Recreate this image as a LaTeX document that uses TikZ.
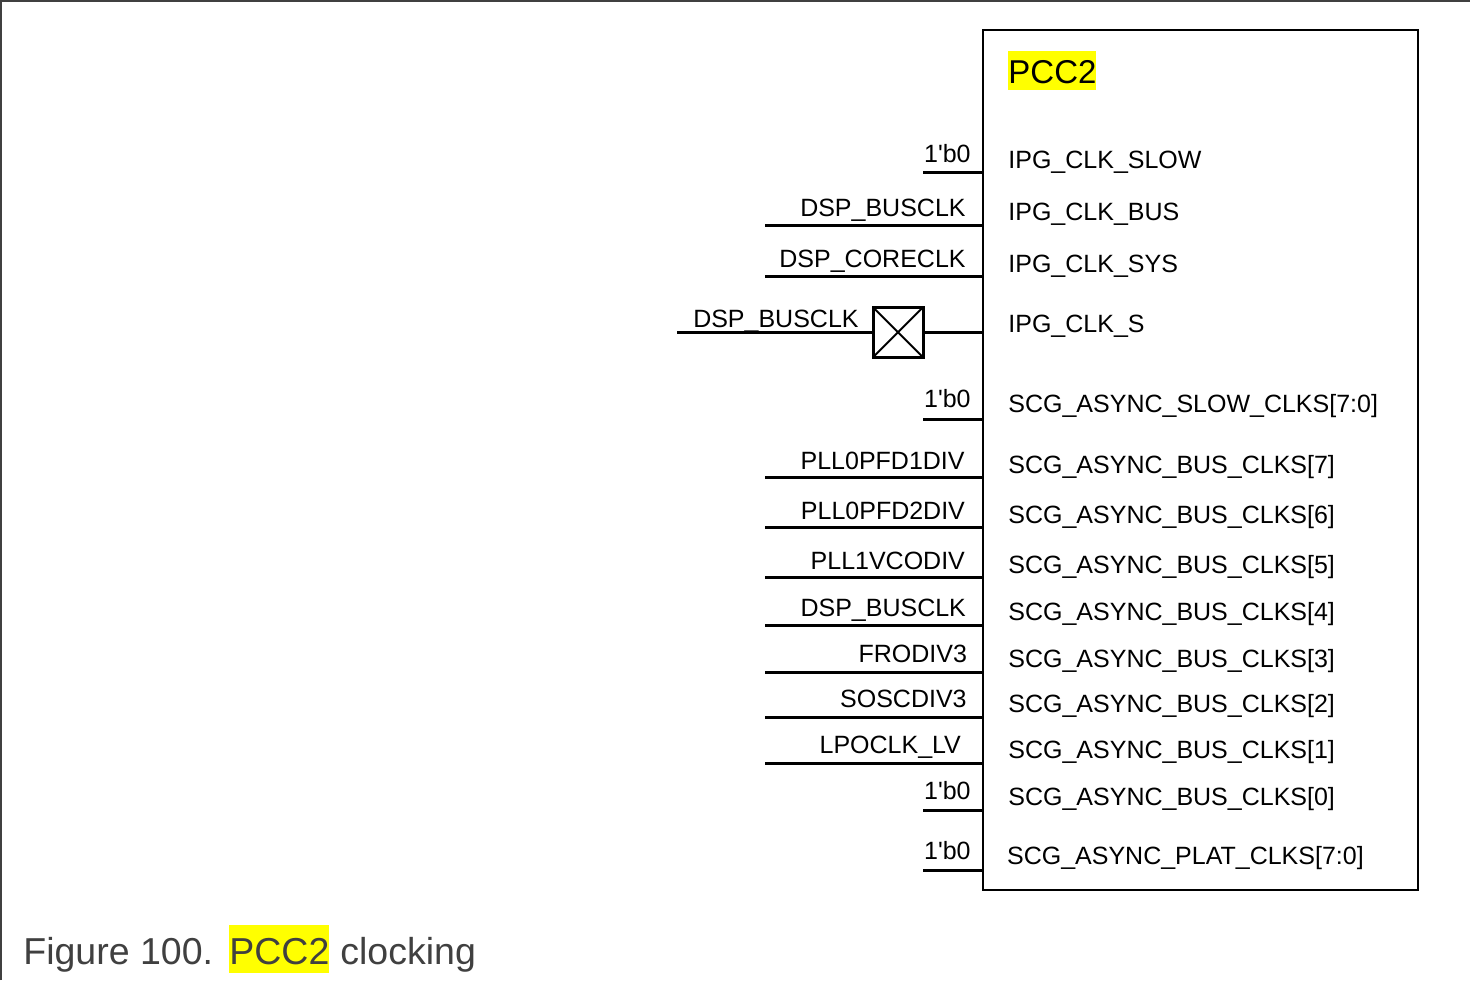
\documentclass[tikz,border=0pt]{standalone}
\usepackage{fontspec}
\setmainfont{Liberation Sans}
\definecolor{capgray}{HTML}{404040}
\definecolor{hiyellow}{HTML}{FFFF00}
\begin{document}
\begin{tikzpicture}[x=0.5pt,y=-0.5pt,
  wire/.style={line width=1.5pt},
  sig/.style={font=\fontsize{12.5}{15}\selectfont, inner sep=0pt, anchor=base east},
  port/.style={font=\fontsize{12.5}{15}\selectfont, inner sep=0pt, anchor=base west},
  gatebox/.style={draw, line width=1.5pt, minimum size=25pt, inner sep=0pt, outer sep=0pt,
    path picture={\draw[line width=1pt] (path picture bounding box.north west) -- (path picture bounding box.south east)
      (path picture bounding box.south west) -- (path picture bounding box.north east);}},
  blockbox/.style={draw, line width=1.25pt, minimum width=217.5pt, minimum height=430pt, inner sep=0pt, outer sep=0pt},
  captext/.style={font=\fontsize{18.75}{22}\selectfont, text=capgray, inner sep=0pt, anchor=base west},
]
\useasboundingbox (0,0) rectangle (1470,980);
\fill[white] (0,0) rectangle (1470,980);
\draw[line width=1pt, color=capgray] (1,980) -- (1,1) -- (1470,1);

% block
\node[blockbox, anchor=north west] (pcc) at (983,30) {};
\node[port, font=\fontsize{16.5}{19}\selectfont, fill=hiyellow, text height=16.35pt, text depth=3.4pt] (title) at (1008,83.5) {PCC2};

% regular rows
\foreach \n/\wy/\wx/\rx/\ly/\txt/\py/\px/\ptxt in {
  1/172.5/923/971/162/1\textquotesingle b0/168/1008/IPG\_CLK\_SLOW,
  2/225.5/765/966/216.7/DSP\_BUSCLK/220.3/1008/IPG\_CLK\_BUS,
  3/276.5/765/966/267/DSP\_CORECLK/272/1008/IPG\_CLK\_SYS,
  5/419/923/971/407/1\textquotesingle b0/412.3/1008/SCG\_ASYNC\_SLOW\_CLKS[7:0],
  6/477.3/765/965/469.7/PLL0PFD1DIV/473.7/1008/SCG\_ASYNC\_BUS\_CLKS[7],
  7/527.7/765/965.3/519.3/PLL0PFD2DIV/523.7/1008/SCG\_ASYNC\_BUS\_CLKS[6],
  8/577.3/765/965.3/569.7/PLL1VCODIV/573.7/1008/SCG\_ASYNC\_BUS\_CLKS[5],
  9/625.7/765/966.3/616/DSP\_BUSCLK/620.3/1008/SCG\_ASYNC\_BUS\_CLKS[4],
  10/672.7/765/967.3/662.7/FRODIV3/667/1008/SCG\_ASYNC\_BUS\_CLKS[3],
  11/717.3/765/967/707/SOSCDIV3/712.2/1008/SCG\_ASYNC\_BUS\_CLKS[2],
  12/763.3/765/961.3/753.7/LPOCLK\_LV/758.3/1008/SCG\_ASYNC\_BUS\_CLKS[1],
  13/810/923/971/799.3/1\textquotesingle b0/805.7/1008/SCG\_ASYNC\_BUS\_CLKS[0],
  14/870/923/971/859.3/1\textquotesingle b0/864/1006.7/SCG\_ASYNC\_PLAT\_CLKS[7:0]}
{
  \coordinate (w\n) at (\wx,\wy);
  \draw[wire] (w\n) -- (w\n -| pcc.west);
  \node[sig] (l\n) at (\rx,\ly) {\txt};
  \node[port] (p\n) at (\px,\py) {\ptxt};
}

% gated row
\coordinate (w4) at (677,332.3);
\node[gatebox] (g4) at (898,332.3) {};
\draw[wire] (w4) -- (g4.west);
\draw[wire] (g4.east) -- (g4.east -| pcc.west);
\node[sig] (l4) at (859,327.7) {DSP\_BUSCLK};
\node[port] (p4) at (1008,332) {IPG\_CLK\_S};

% caption
\node[captext] (cap1) at (23,964) {Figure 100.};
\node[captext, fill=hiyellow, text height=19.7pt, text depth=4.6pt] (cap2) at (229,964) {PCC2};
\node[captext] (cap3) at (340,964) {clocking};
\end{tikzpicture}
\end{document}
